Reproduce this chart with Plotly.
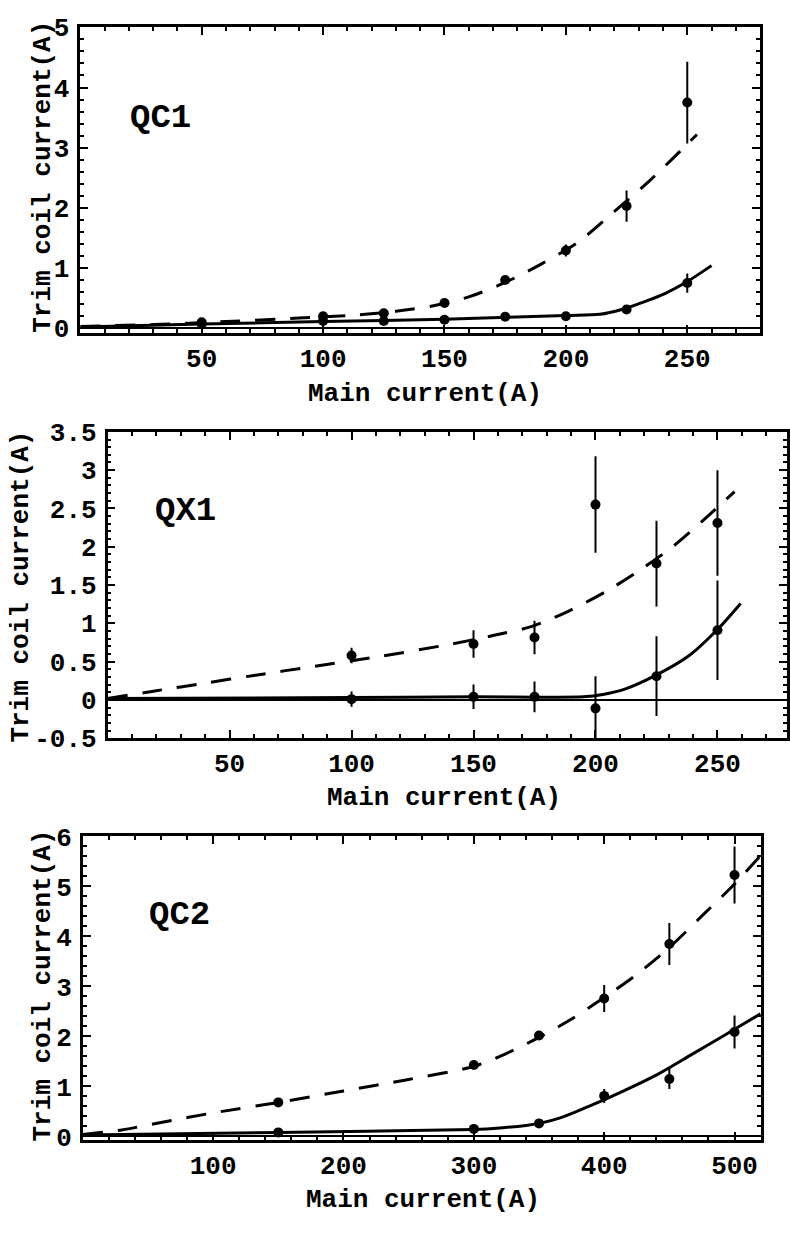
import plotly.graph_objects as go

# ---------------- data ----------------
# QC1
qc1_x = [50, 100, 125, 150, 175, 200, 225, 250]
qc1_upper = [0.10, 0.20, 0.25, 0.42, 0.80, 1.29, 2.03, 3.75]
qc1_upper_err = [0.02, 0.03, 0.03, 0.04, 0.05, 0.10, 0.26, 0.68]
qc1_lower = [0.07, 0.12, 0.12, 0.14, 0.19, 0.20, 0.31, 0.75]
qc1_lower_err = [0.02, 0.02, 0.02, 0.02, 0.03, 0.03, 0.05, 0.16]
qc1_fit_dash_x = [0, 30, 60, 90, 110, 130, 145, 160, 175, 190, 205, 220, 235, 254]
qc1_fit_dash_y = [0.03, 0.06, 0.11, 0.17, 0.21, 0.28, 0.37, 0.52, 0.76, 1.07, 1.43, 1.94, 2.47, 3.22]
qc1_fit_solid_x = [0, 50, 100, 150, 200, 214, 223, 233, 241, 249, 260]
qc1_fit_solid_y = [0.02, 0.07, 0.11, 0.15, 0.21, 0.23, 0.31, 0.45, 0.58, 0.75, 1.04]

# QX1
qx1_x = [100, 150, 175, 200, 225, 250]
qx1_upper = [0.58, 0.73, 0.815, 2.55, 1.78, 2.31]
qx1_upper_err = [0.10, 0.18, 0.22, 0.63, 0.56, 0.69]
qx1_lower = [0.01, 0.04, 0.04, -0.11, 0.31, 0.91]
qx1_lower_err = [0.10, 0.16, 0.20, 0.42, 0.52, 0.65]
qx1_fit_dash_x = [0, 20, 40, 60, 85, 112, 141, 158, 174, 189, 204, 218, 232, 244, 257]
qx1_fit_dash_y = [0.02, 0.12, 0.22, 0.32, 0.44, 0.57, 0.73, 0.84, 0.96, 1.16, 1.41, 1.69, 2.01, 2.34, 2.72]
qx1_fit_solid_x = [0, 100, 150, 195, 203, 212, 224, 238, 250, 259.5]
qx1_fit_solid_y = [0.02, 0.03, 0.04, 0.04, 0.07, 0.14, 0.31, 0.57, 0.92, 1.26]

# QC2
qc2_x = [150, 300, 350, 400, 450, 500]
qc2_upper = [0.68, 1.43, 2.02, 2.76, 3.85, 5.23]
qc2_upper_err = [0.04, 0.05, 0.06, 0.27, 0.42, 0.57]
qc2_lower = [0.08, 0.15, 0.26, 0.81, 1.15, 2.09]
qc2_lower_err = [0.03, 0.03, 0.04, 0.14, 0.20, 0.33]
qc2_fit_dash_x = [0, 30, 60, 100, 150, 200, 250, 300, 325, 350, 375, 400, 425, 450, 475, 500, 521]
qc2_fit_dash_y = [0.04, 0.13, 0.28, 0.47, 0.68, 0.91, 1.14, 1.40, 1.66, 1.98, 2.35, 2.78, 3.24, 3.78, 4.41, 5.05, 5.65]
qc2_fit_solid_x = [0, 150, 300, 320, 340, 352, 365, 390, 415, 441, 466, 492, 510, 520]
qc2_fit_solid_y = [0.03, 0.08, 0.14, 0.17, 0.22, 0.27, 0.36, 0.62, 0.91, 1.24, 1.62, 2.02, 2.30, 2.45]

panel_labels = ["QC1", "QX1", "QC2"]
x_title = "Main current(A)"
y_title = "Trim coil current(A)"

W, H = 790, 1233
FONT = "Liberation Mono"

def px(x):
    return x / W

def py(y):
    return 1 - y / H

fig = go.Figure()

panels = [
    dict(xs=qc1_x, up=qc1_upper, upe=qc1_upper_err, lo=qc1_lower, loe=qc1_lower_err,
         dx=qc1_fit_dash_x, dy=qc1_fit_dash_y, sx=qc1_fit_solid_x, sy=qc1_fit_solid_y),
    dict(xs=qx1_x, up=qx1_upper, upe=qx1_upper_err, lo=qx1_lower, loe=qx1_lower_err,
         dx=qx1_fit_dash_x, dy=qx1_fit_dash_y, sx=qx1_fit_solid_x, sy=qx1_fit_solid_y),
    dict(xs=qc2_x, up=qc2_upper, upe=qc2_upper_err, lo=qc2_lower, loe=qc2_lower_err,
         dx=qc2_fit_dash_x, dy=qc2_fit_dash_y, sx=qc2_fit_solid_x, sy=qc2_fit_solid_y),
]

for i, p in enumerate(panels):
    ax = "" if i == 0 else str(i + 1)
    xa, ya = "x" + ax, "y" + ax
    fig.add_trace(go.Scatter(x=p["dx"], y=p["dy"], mode="lines", xaxis=xa, yaxis=ya,
                             line=dict(color="black", width=3, dash="20px,15px", shape="spline", smoothing=0.8),
                             showlegend=False, hoverinfo="skip"))
    fig.add_trace(go.Scatter(x=p["sx"], y=p["sy"], mode="lines", xaxis=xa, yaxis=ya,
                             line=dict(color="black", width=3, shape="spline", smoothing=0.8),
                             showlegend=False, hoverinfo="skip"))
    for vals, errs in ((p["up"], p["upe"]), (p["lo"], p["loe"])):
        fig.add_trace(go.Scatter(x=p["xs"], y=vals, mode="markers", xaxis=xa, yaxis=ya,
                                 marker=dict(color="black", size=10),
                                 error_y=dict(type="data", array=errs, visible=True,
                                              color="black", thickness=2, width=0),
                                 showlegend=False))

tickfont = dict(family=FONT, size=26, color="black", weight="bold")

def xaxis_cfg(domain, rng, tickvals, minor_dtick, anchor):
    return dict(domain=domain, range=rng, anchor=anchor, tickmode="array", tickvals=tickvals,
                ticktext=[str(v) for v in tickvals],
                ticks="inside", ticklen=8, tickwidth=2, tickcolor="black",
                showline=True, linecolor="black", linewidth=2.5, mirror="allticks",
                showgrid=False, zeroline=False, tickfont=tickfont, ticklabelstandoff=0,
                minor=dict(dtick=minor_dtick, tick0=0, ticks="inside", ticklen=4,
                           tickwidth=1.5, tickcolor="black", showgrid=False))

def yaxis_cfg(domain, rng, tickvals, ticktext, minor_dtick, anchor):
    return dict(domain=domain, range=rng, anchor=anchor, tickmode="array", tickvals=tickvals,
                ticktext=ticktext,
                ticks="inside", ticklen=8, tickwidth=2, tickcolor="black",
                showline=True, linecolor="black", linewidth=2.5, mirror="allticks",
                showgrid=False, zeroline=True, zerolinecolor="black", zerolinewidth=2,
                tickfont=tickfont, ticklabelstandoff=3,
                minor=dict(dtick=minor_dtick, tick0=0, ticks="inside", ticklen=4,
                           tickwidth=1.5, tickcolor="black", showgrid=False))

fig.update_layout(
    width=W, height=H,
    margin=dict(l=0, r=0, t=0, b=0),
    paper_bgcolor="white", plot_bgcolor="white",
    xaxis=xaxis_cfg([px(80.6), px(763)], [0, 280], [50, 100, 150, 200, 250], 10, "y"),
    yaxis=yaxis_cfg([py(328), py(14.7)], [-0.08, 5], [0, 1, 2, 3, 4, 5],
                    ["0", "1", "2", "3", "4", "5"], 0.2, "x"),
    xaxis2=xaxis_cfg([px(108), 1.0], [0, 278.5], [50, 100, 150, 200, 250], 10, "y2"),
    yaxis2=yaxis_cfg([py(743.3), py(429.3)], [-0.5, 3.5],
                     [-0.5, 0, 0.5, 1, 1.5, 2, 2.5, 3, 3.5],
                     ["-0.5", "0", "0.5", "1", "1.5", "2", "2.5", "3", "3.5"], 0.1, "x2"),
    xaxis3=xaxis_cfg([px(83.1), px(763.5)], [0, 520], [100, 200, 300, 400, 500], 20, "y3"),
    yaxis3=yaxis_cfg([py(1155), py(844)], [-0.07, 6], [0, 1, 2, 3, 4, 5, 6],
                     ["0", "1", "2", "3", "4", "5", "6"], 0.2, "x3"),
)

title_font = dict(family=FONT, size=26, color="black", weight="bold")
label_font = dict(family=FONT, size=34, color="black", weight="bold")

annos = []
xt_pos = [(427, 390), (446, 805), (425, 1217)]
yt_pos = [(43, 168), (21, 588), (43, 997)]
lab_pos = [(161, 108), (186, 510), (180, 925)]
for i in range(3):
    annos.append(dict(text=x_title, x=px(xt_pos[i][0]), y=py(xt_pos[i][1]), xref="paper", yref="paper",
                      showarrow=False, font=title_font, xanchor="center", yanchor="middle"))
    annos.append(dict(text=y_title, x=px(yt_pos[i][0]), y=py(yt_pos[i][1]), xref="paper", yref="paper",
                      showarrow=False, font=title_font, textangle=-90, xanchor="center", yanchor="middle"))
    annos.append(dict(text=panel_labels[i], x=px(lab_pos[i][0]), y=py(lab_pos[i][1]), xref="paper", yref="paper",
                      showarrow=False, font=label_font, xanchor="center", yanchor="middle"))
fig.update_layout(annotations=annos)

fig.write_html("out.html", config={"displayModeBar": False},
               post_script="document.body.style.margin='0px';document.body.style.overflow='hidden';")
